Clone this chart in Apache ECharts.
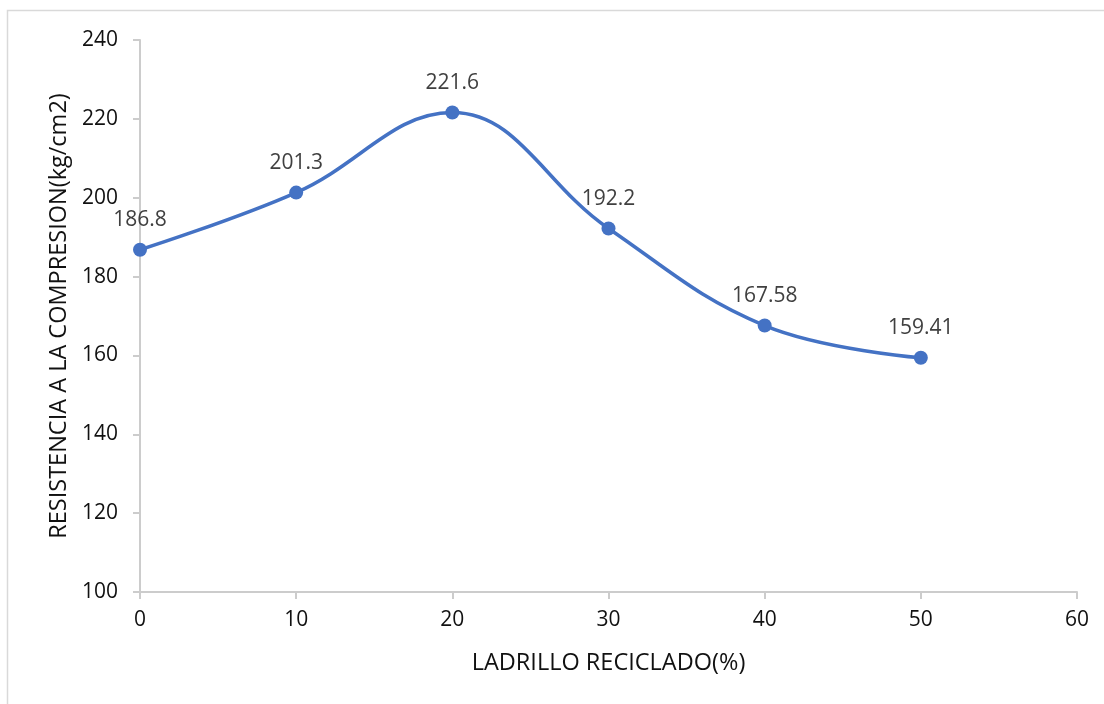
<!DOCTYPE html>
<html>
<head>
<meta charset="utf-8">
<script src="https://cdn.jsdelivr.net/npm/echarts@6/dist/echarts.min.js"></script>
<style>
html,body{margin:0;padding:0;background:#fff;}
#main{width:1104px;height:704px;}
</style>
</head>
<body>
<div id="main"></div>
<script>
const xValues = [0, 10, 20, 30, 40, 50];
const yValues = [186.8, 201.3, 221.6, 192.2, 167.58, 159.41];
const labelTexts = ['186.8', '201.3', '221.6', '192.2', '167.58', '159.41'];
const xTitle = 'LADRILLO RECICLADO(%)';
const yTitle = 'RESISTENCIA A LA COMPRESION(kg/cm2)';

const chart = echarts.init(document.getElementById('main'));
const font = '"Open Sans", "Liberation Sans", Arial, sans-serif';
const axisLine = {show: true, lineStyle: {color: '#cccccc', width: 2}};
const axisTick = {show: true, length: 7, lineStyle: {color: '#cccccc', width: 2}};
chart.setOption({
  animation: false,
  backgroundColor: '#ffffff',
  graphic: [{
    type: 'rect',
    shape: {x: 7.5, y: 10.5, width: 1200, height: 800},
    style: {fill: 'none', stroke: '#d9d9d9', lineWidth: 1.5},
    silent: true
  }],
  grid: {left: 140, right: 27, top: 40, bottom: 112, containLabel: false},
  xAxis: {
    type: 'value', min: 0, max: 60, interval: 10,
    axisLine: axisLine, axisTick: axisTick,
    splitLine: {show: false},
    axisLabel: {color: '#111111', fontSize: 21, fontFamily: font, margin: 18},
    name: xTitle, nameLocation: 'middle', nameGap: 59,
    nameTextStyle: {color: '#111111', fontSize: 23.5, fontFamily: font}
  },
  yAxis: {
    type: 'value', min: 100, max: 240, interval: 20,
    axisLine: axisLine, axisTick: axisTick,
    splitLine: {show: false},
    axisLabel: {color: '#111111', fontSize: 21, fontFamily: font, margin: 22},
    name: yTitle, nameLocation: 'middle', nameGap: 66, nameRotate: 90,
    nameTextStyle: {color: '#111111', fontSize: 23.5, fontFamily: font}
  },
  series: [{
    type: 'line',
    data: xValues.map((x, i) => [x, yValues[i]]),
    smooth: 0.4,
    symbol: 'circle',
    symbolSize: 14,
    lineStyle: {color: '#4472C4', width: 3.5},
    itemStyle: {color: '#4472C4'},
    label: {
      show: true, position: 'top', distance: 12,
      formatter: p => labelTexts[p.dataIndex],
      color: '#404040', fontSize: 21, fontFamily: font
    }
  }]
});
</script>
</body>
</html>
